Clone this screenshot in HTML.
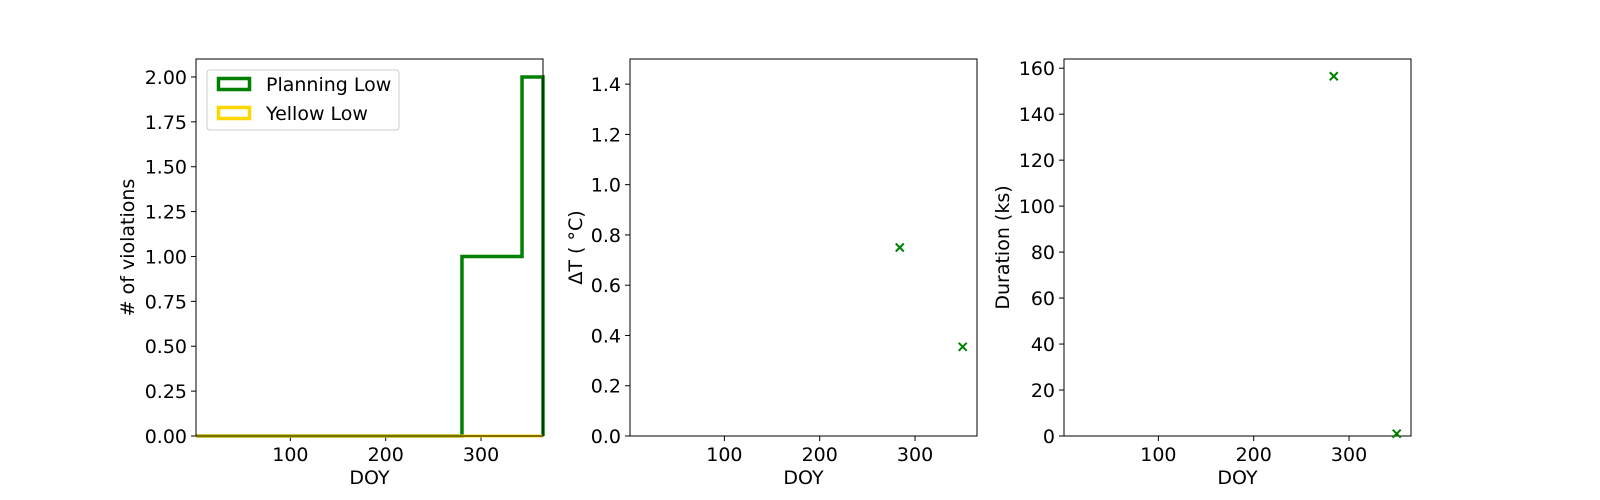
<!DOCTYPE html>
<html><head><meta charset="utf-8"><style>
body{margin:0;background:#fff;}
svg{display:block;font-family:"DejaVu Sans","Liberation Sans",sans-serif;}
</style></head><body>
<svg id="chart" width="1600" height="500" xmlns="http://www.w3.org/2000/svg"></svg>
<script>
// Panel 1 histogram
const histEdges = [1, 280, 343, 365];
const planningCounts = [0, 1, 2];
const yellowCounts = [0, 0, 0];
const p1Ticks = [0, 0.25, 0.5, 0.75, 1.0, 1.25, 1.5, 1.75, 2.0];
const p1TickLabels = ["0.00","0.25","0.50","0.75","1.00","1.25","1.50","1.75","2.00"];
// Panel 2 delta T
const doyPoints = [284, 350];
const deltaT = [0.75, 0.355];
const p2Ticks = [0, 0.2, 0.4, 0.6, 0.8, 1.0, 1.2, 1.4];
const p2TickLabels = ["0.0","0.2","0.4","0.6","0.8","1.0","1.2","1.4"];
// Panel 3 duration
const durations = [156.5, 1];
const p3Ticks = [0, 20, 40, 60, 80, 100, 120, 140, 160];
const xTicks = [100, 200, 300];

const svg = document.getElementById('chart');
const NS = 'http://www.w3.org/2000/svg';
const FS = 19;
function mk(tag, attrs, parent){const e=document.createElementNS(NS,tag);for(const k in attrs)e.setAttribute(k,attrs[k]);(parent||svg).appendChild(e);return e;}
const yTop=59, bot=436, xmin=1, xmax=365;
function xs(x0){return v=>x0+(v-xmin)/(xmax-xmin)*347;}
function ys(ymax){return v=>bot-v/ymax*(bot-yTop);}

function axes(name, x0, ymax, ticks, labels, ylabel){
  const g=mk('g',{});
  
  
  const X=xs(x0), Y=ys(ymax);
  xTicks.forEach(t=>{
    mk('line',{x1:X(t),x2:X(t),y1:bot,y2:bot+5,stroke:'#000','stroke-width':1},g);
    const tx=mk('text',{x:X(t),y:bot+25,'font-size':FS,'text-anchor':'middle'},g);tx.textContent=t;
  });
  ticks.forEach((t,i)=>{
    mk('line',{x1:x0-5,x2:x0,y1:Y(t),y2:Y(t),stroke:'#000','stroke-width':1},g);
    const tx=mk('text',{x:x0-9,y:Y(t)+7,'font-size':FS,'text-anchor':'end'},g);tx.textContent=labels[i];
  });
  const xl=mk('text',{x:x0+173.5,y:484,'font-size':FS,'text-anchor':'middle'},g);xl.textContent='DOY';
  
  
  const yl=mk('text',{x:0,y:0,'font-size':FS,'text-anchor':'middle',transform:`translate(${x0-ylabel.off},${(yTop+bot)/2}) rotate(-90)`},g);yl.textContent=ylabel.t;
  
  
  return {g,X,Y};
}
function frame(g,x0){const r=mk('rect',{x:x0,y:yTop,width:347,height:bot-yTop,fill:'none',stroke:'#000','stroke-width':1},g);}

// Panel 1
const a1=axes('violations-histogram-panel',196,2.1,p1Ticks,p1TickLabels,{t:'# of violations',off:62});
function stepPath(counts,X,Y){
  let d=`M${X(histEdges[0])},${Y(0)}`;
  counts.forEach((c,i)=>{d+=` L${X(histEdges[i])},${Y(c)} L${X(histEdges[i+1])},${Y(c)}`;});
  d+=` L${X(histEdges[histEdges.length-1])},${Y(0)}`;return d;
}
const pp=mk('path',{d:stepPath(planningCounts,a1.X,a1.Y),fill:'none',stroke:'#008000','stroke-width':3.5},a1.g);


const yp=mk('path',{d:stepPath(yellowCounts,a1.X,a1.Y),fill:'none',stroke:'#ffd700','stroke-width':3},a1.g);


frame(a1.g,196);
const lg=mk('g',{},a1.g);


mk('rect',{x:207,y:70,width:192,height:60,rx:3,fill:'#fff',stroke:'#ccc'},lg);
mk('rect',{x:218.5,y:78.5,width:31,height:11,fill:'none',stroke:'#008000','stroke-width':3.5},lg);
mk('rect',{x:218.5,y:107.5,width:31,height:11,fill:'none',stroke:'#ffd700','stroke-width':3.5},lg);
let lt=mk('text',{x:266,y:91,'font-size':FS},lg);lt.textContent='Planning Low';
lt=mk('text',{x:266,y:120,'font-size':FS},lg);lt.textContent='Yellow Low';

function markers(a,vals,name){
  doyPoints.forEach((d,i)=>{
    const x=a.X(d),y=a.Y(vals[i]);
    const m=mk('path',{d:`M${x-4},${y-4}L${x+4},${y+4}M${x-4},${y+4}L${x+4},${y-4}`,stroke:'#008000','stroke-width':2},a.g);
    
    
  });
}
// Panel 2
const a2=axes('delta-t-panel',630,1.5,p2Ticks,p2TickLabels,{t:'ΔT ( °C)',off:48});
frame(a2.g,630);
markers(a2,deltaT,'delta-t-marker');
// Panel 3
const a3=axes('duration-panel',1064,164,p3Ticks,p3Ticks.map(String),{t:'Duration (ks)',off:55});
frame(a3.g,1064);
markers(a3,durations,'duration-marker');
</script>
</body></html>
